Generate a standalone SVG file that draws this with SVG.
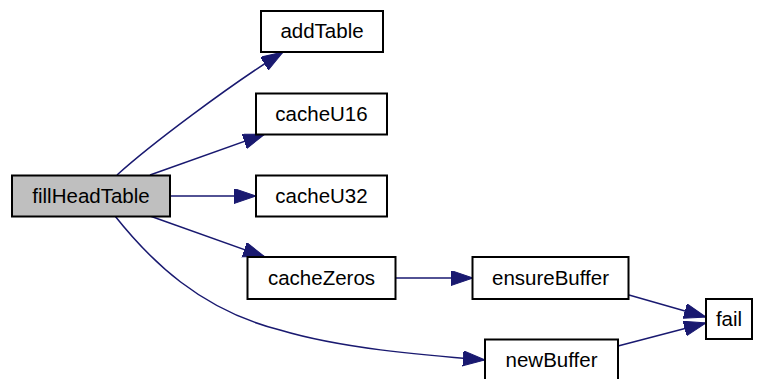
<svg xmlns="http://www.w3.org/2000/svg" width="758" height="379" viewBox="0 0 758 379">
<style>
.n rect{fill:#ffffff;stroke:#000000;stroke-width:2}
.n text{font-family:"Liberation Sans",Arial,sans-serif;font-size:20.5px;fill:#000000;text-anchor:middle}
.e path{fill:none;stroke:#191970;stroke-width:1.5}
</style>
<defs>
<marker id="ah" markerUnits="userSpaceOnUse" markerWidth="24" markerHeight="16" refX="22" refY="7.5" orient="auto">
<path d="M0,0 L22,7.5 L0,15 Z" fill="#191970" stroke="#191970" stroke-width="1"/>
</marker>
</defs>
<rect width="758" height="379" fill="#ffffff"/>
<g class="e">
<path d="M117,175 C150,145 230,85 283,52" marker-end="url(#ah)"/>
<path d="M150,175 L265,134" marker-end="url(#ah)"/>
<path d="M170,196 L256,196" marker-end="url(#ah)"/>
<path d="M150,216 L265,257" marker-end="url(#ah)"/>
<path d="M115,216 C150,260 200,310 280,330 C340,348 420,355 485,360" marker-end="url(#ah)"/>
<path d="M396,278 L473,278" marker-end="url(#ah)"/>
<path d="M629,295 L706,317" marker-end="url(#ah)"/>
<path d="M618,346 L706,323" marker-end="url(#ah)"/>
</g>
<g class="n" id="fillHeadTable"><rect x="12" y="175.5" width="158" height="41" style="fill:#bfbfbf"/><text x="91" y="202.5">fillHeadTable</text></g>
<g class="n" id="addTable"><rect x="261" y="11" width="122" height="41"/><text x="322" y="38">addTable</text></g>
<g class="n" id="cacheU16"><rect x="256" y="93.5" width="131" height="41"/><text x="321.5" y="120.5">cacheU16</text></g>
<g class="n" id="cacheU32"><rect x="256" y="175.5" width="131" height="41"/><text x="321.5" y="202.5">cacheU32</text></g>
<g class="n" id="cacheZeros"><rect x="247.5" y="257" width="148" height="42"/><text x="321.5" y="284.5">cacheZeros</text></g>
<g class="n" id="ensureBuffer"><rect x="472.5" y="257" width="156" height="42"/><text x="550.5" y="284.5">ensureBuffer</text></g>
<g class="n" id="fail"><rect x="706" y="299" width="46" height="40"/><text x="729" y="326">fail</text></g>
<g class="n" id="newBuffer"><rect x="485" y="339.5" width="133" height="41"/><text x="551.5" y="366.5">newBuffer</text></g>
</svg>
